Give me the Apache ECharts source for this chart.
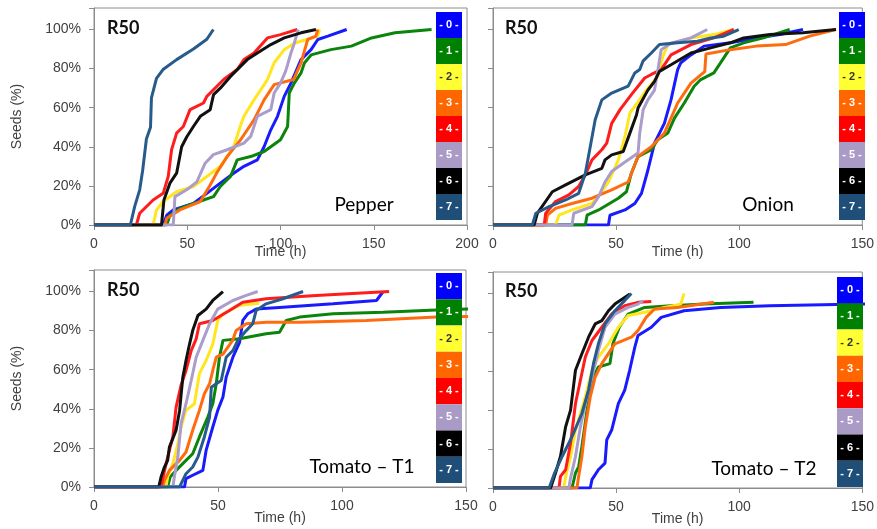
<!DOCTYPE html>
<html><head><meta charset="utf-8">
<script src="https://cdn.jsdelivr.net/npm/echarts@6/dist/echarts.min.js"></script>
<style>html,body{margin:0;padding:0;background:#fff}#c{width:877px;height:529px}</style>
</head><body><div id="c"></div>
<script>
// ---- data ----
const legendLabels = ['0','1','2','3','4','5','6','7'];
const panelNames = ['Pepper','Onion','Tomato \u2013 T1','Tomato \u2013 T2'];
const panelTag = 'R50';
const xMaxes = [200,150,150,150];
const yTicks = [0,20,40,60,80,100];
const yAxisTitle = 'Seeds (%)';
const xAxisTitle = 'Time (h)';

// Pepper
const P0 = [[0,0],[37,0],[39,5],[42.5,7.7],[53.3,11],[60.5,16.2],[67.7,21.4],[74.9,26.5],[80.4,30],[87.6,33.3],[91.2,40],[94.8,48.7],[98.4,55.6],[102,65.8],[105.6,72.6],[111,84.6],[116.4,89.7],[120,94.9],[125.4,96.6],[135.5,100]];
const P1 = [[0,0],[39,0],[40.7,5],[46,8.5],[58.7,12.8],[64.1,14.5],[67.7,19.7],[73.2,24.8],[76.8,33.3],[84,35],[91.2,37.6],[94.8,40],[100,43.6],[103.8,50.4],[104.7,67.5],[107.4,72.6],[111,77.8],[112.8,82.9],[116.4,87],[127,89.7],[138,91.5],[148.8,95.7],[161.4,98.3],[181,100]];
const P2 = [[0,0],[31.7,0],[33.5,7.7],[37.1,12],[44.3,17],[53.3,19.7],[60.5,24.8],[67.7,30],[74.9,40],[78.6,51],[80.4,55.6],[85.8,64],[93,74.4],[96.6,83],[102,89.7],[107.4,93],[114.6,95],[120,96.6],[120.9,100]];
const P3 = [[0,0],[38,0],[39,3.4],[46,7.7],[57,12],[62.3,20.5],[66,27],[71.4,35],[78.6,43.6],[85.8,53.8],[91.2,64],[96.6,71.8],[107,74.4],[111,82.9],[114.6,94.9],[119,96.6],[120,100]];
const P4 = [[0,0],[22.7,0],[24.5,6],[31.7,12.8],[37.1,16.2],[39.8,24.8],[41.6,38.5],[44.3,47],[47.9,50.4],[51.5,59],[58.7,62.4],[60.5,65.8],[65.9,71],[69.5,74.4],[76.8,79.5],[80.4,84.6],[85.8,88],[93,95.7],[100,97.4],[109,100]];
const P5 = [[0,0],[42.5,0],[43.4,14.5],[49.7,18],[55.1,22],[59.6,31.6],[64,36],[71.4,38.5],[80.4,41.9],[84,45.3],[87.6,55.6],[94.8,59],[96.6,67.5],[100,72.6],[102.7,78.6],[103.8,82],[105.6,88],[107.4,93],[109.5,100]];
const P6 = [[0,0],[36.2,0],[37.5,12.8],[40.7,21.4],[44.3,26.5],[47,40],[49.7,45],[53.3,50.4],[57,55.6],[62.3,59],[64.1,66.7],[67.7,70],[73.2,76],[76.8,79.5],[82.2,84.6],[87.6,88],[94.8,92.3],[102,95.7],[111,98.3],[119,100]];
const P7 = [[0,0],[19.5,0],[21.8,9.4],[24.5,18],[26.1,28],[28.1,44],[30.3,50],[30.8,65],[33.5,75],[37,79.5],[44.3,84.6],[53.3,90],[60.5,95],[64,100]];

// Onion
const O0 = [[0,0],[46.9,0],[47.5,5],[53.6,7.7],[57.6,11],[60.3,16.2],[62.9,28],[65.6,41.9],[69.6,52],[72.3,64],[75,79.5],[76.3,83],[80.4,87],[85.7,91.5],[96.4,93.2],[107,95.7],[116.5,97.4],[125.9,100]];
const O1 = [[0,0],[37.5,0],[38.2,5],[42.9,7.7],[50.9,13.7],[54.2,17],[56.2,26.5],[58.9,35],[64.3,38.5],[66.9,43.6],[71,47],[73.7,54.7],[77.7,62.4],[81.7,71],[84.4,74.4],[89.7,77.8],[92.4,82.9],[96.4,90.6],[101.8,93.2],[109.8,95.7],[120.5,100]];
const O2 = [[0,0],[25.4,0],[26.8,5],[32.1,7.7],[40.2,11],[44.2,17],[46.9,22],[50.9,33.3],[53.6,45.3],[55.6,57.3],[58.9,63],[62.3,69],[66.9,76],[69,86.3],[71,92.3],[80.4,95.7],[89.7,97.4],[97.8,100]];
const O3 = [[0,0],[21.4,0],[22.1,5],[25.4,8.5],[32.1,11],[40.2,13.7],[48.2,18],[54.9,22],[58.9,35],[64.3,40],[69.6,47],[75,62.4],[80.4,72.6],[86,78.5],[86.5,87.5],[96.4,89.7],[107,91.5],[118.8,92.3],[128.6,96.6],[139.3,100]];
const O4 = [[0,0],[20.8,0],[21.4,6],[25.4,12],[30.8,15.4],[34.8,19.7],[37.5,25.6],[40.2,33.3],[44.2,38.5],[46.2,41.9],[48.2,52],[51.6,59],[56.2,66.7],[61.6,75.2],[64.3,77],[68.3,79.5],[72.3,87],[80.4,92.3],[89.7,95.7],[97.8,100]];
const O5 = [[0,0],[32.1,0],[32.8,6],[40.2,9.4],[42.9,14.5],[45.5,22],[48.2,27.4],[52.9,31.6],[58.9,36.8],[59.6,47],[61,59],[62.9,64],[65.6,69],[67,79.5],[68.3,89.7],[72.3,93],[80.4,95.7],[87,100]];
const O6 = [[0,0],[16.7,0],[18,6],[24.1,17],[29.5,20.5],[37.5,25.6],[44.2,29],[45.5,33.3],[48.2,35.9],[52.9,37.6],[55.6,47],[58.3,56.4],[58.9,59.8],[62.9,69],[65.6,73.5],[67.6,78.6],[72.3,82],[80.4,88],[88.4,90.6],[96.4,93.2],[101.8,95.7],[112.5,97.4],[125.9,98.3],[139.3,100]];
const O7 = [[0,0],[16,0],[17.4,6],[22.8,9.4],[29.5,12.8],[34.8,16.2],[37.5,26.5],[39.5,40],[41.5,53.8],[44.2,64],[48.2,67.5],[54.9,71],[57.6,77.8],[59.6,79.5],[60.9,83.8],[64.3,88],[67.6,92.3],[75,93.2],[83,94],[88.4,95.7],[93.7,96.6],[99.8,100]];

// Tomato T1
const A0 = [[0,0],[36.5,0],[37.1,4.3],[39.8,6],[43.9,8.5],[45.2,18.7],[47.9,30.7],[49.9,39.2],[52,46],[53.3,56.2],[56,66.4],[58.7,74],[60,85.2],[62,88.6],[65.4,91],[76.2,92],[96.4,93.7],[113.9,95.4],[116.6,100]];
const A1 = [[0,0],[29.7,0],[30.7,5.1],[33.1,8.5],[37.1,13.6],[39.8,17],[42.5,25.6],[45.9,35.8],[47.9,42.6],[49.3,52.8],[50.6,66.4],[52,75],[58.7,75.8],[69.4,78.4],[74.8,79.2],[77.5,85.2],[82.9,86.9],[96.4,88.6],[116.6,89.4],[138,90.6],[155,91.2]];
const A2 = [[0,0],[29,0],[29.7,5.1],[31.8,12],[33.8,22],[35.1,30.7],[37.1,39.2],[40.5,42.6],[42.5,58],[45.2,64.7],[47.9,73],[49.9,85.2],[52,88.5],[58.7,93],[66.6,94]];
const A3 = [[0,0],[27.7,0],[28.4,3.4],[30.4,8.5],[34.5,13.6],[37.1,17.9],[39.8,29],[42.5,39.2],[44.5,47.7],[46.6,52.8],[47.9,59.6],[49.3,66.4],[52,68],[55.9,75],[57.3,80],[61.4,83.5],[69.4,84.3],[82.9,84.3],[109.8,85.2],[138,86.9],[155,87.3]];
const A4 = [[0,0],[27,0],[27.7,4.3],[29.7,15.3],[31.8,25.6],[33.1,40.9],[35.1,52],[37.1,59.6],[39.2,69.8],[41.2,75.8],[42.5,83.5],[47.9,85.2],[54.6,90.3],[60,94.5],[69.4,96.3],[89.6,98],[119,100]];
const A5 = [[0,0],[31.8,0],[32.4,5.1],[33.8,15.3],[35.1,32.4],[37.1,42.6],[39.2,54.5],[41.2,66.4],[43.9,75],[46.6,83.5],[49.9,91],[56,95.4],[61.4,98],[66,100]];
const A6 = [[0,0],[26.1,0],[27,5],[28.4,10.2],[29.7,13.6],[30.4,20.4],[33.1,29],[34.5,39],[35.8,56],[37.1,64.7],[38.5,73],[39.8,80],[41.9,87.7],[45.2,91],[47.9,95.4],[52,100]];
const A7 = [[0,0],[34.5,0],[37.1,6.8],[39.8,10.2],[41.9,15.3],[44.5,25.6],[46.6,35.8],[47.3,51],[49.3,52.8],[51.3,54.5],[53.3,66.4],[56,69.8],[58,75],[61.4,80],[64,83.5],[65.4,90.3],[69.4,93.7],[76.2,96.3],[84.3,100]];

// Tomato T2
const B0 = [[0,0],[39.5,0],[40.2,4.3],[42.8,9.4],[45.5,12.8],[46.2,24.7],[48.2,29.8],[50.9,43.4],[53.5,50.3],[55.5,60.5],[57.6,72.4],[58.9,78.4],[64.3,82.6],[68.3,87.7],[77.6,91.1],[92.4,92.8],[112.4,93.7],[150,94.5],[160,94.7]];
const B1 = [[0,0],[32.1,0],[33.5,7.7],[34.8,11],[36.1,21.3],[38.2,40],[40.2,55.4],[42.8,62.2],[47.5,63.9],[48.7,74.1],[51.3,82.6],[54.9,89.4],[61.6,92.8],[72.3,93.7],[85.7,94.5],[105.8,95.4]];
const B2 = [[0,0],[28.8,0],[29.5,6],[31.5,16.2],[33.5,29.8],[35.5,38.3],[37.5,46.8],[40.2,60.5],[42.8,67.3],[46.9,74.1],[50.9,82.6],[54.9,88.6],[61.6,90.3],[69.6,92.8],[76.3,94.5],[77.6,100]];
const B3 = [[0,0],[34.1,0],[34.8,6],[36.1,16.2],[37.5,31.5],[39.5,46.8],[41.5,57],[44.2,63.9],[49.5,74.1],[56.2,77.5],[58.9,80.9],[62.2,87.7],[65.6,92],[75,92.8],[89.7,95.4]];
const B4 = [[0,0],[26.8,0],[27.4,6],[29.5,9.4],[31.5,23],[33.5,43.4],[35.5,55.4],[37.5,67.3],[40.2,75.8],[44.2,82.6],[48.2,89.4],[53.5,93.7],[58.9,95.4],[64.3,95.9]];
const B5 = [[0,0],[30.8,0],[31.5,5.1],[33.5,16.2],[35.5,31.5],[37.5,43.4],[40.2,57],[42.8,70.7],[45.5,82.6],[49.5,89.4],[54.9,92.8],[58.9,94.5],[60.9,96.3]];
const B6 = [[0,0],[23.4,0],[25.4,7.7],[27.4,16.2],[29.5,31.5],[31.5,40],[33.5,60.5],[36.1,69],[38.8,77.5],[41.5,84.3],[44.2,86],[46.9,91.1],[49.5,94.5],[55.6,99.7]];
const B7 = [[0,0],[22.8,0],[25,7.7],[28.1,16.2],[32.1,26.4],[36.1,38.3],[38.8,50.3],[40.8,63.9],[42.8,74.1],[45.5,84.3],[49.5,91.1],[53.5,96.3],[56.2,100]];

const panelSeries = [[P0,P1,P2,P3,P4,P5,P6,P7],[O0,O1,O2,O3,O4,O5,O6,O7],[A0,A1,A2,A3,A4,A5,A6,A7],[B0,B1,B2,B3,B4,B5,B6,B7]];

// ---- styles / layout ----
const lineColors = ['#1a1aff','#0b840b','#ffe61f','#ff6b0f','#ff1c1c','#ab9dcb','#111111','#275b8c'];
const boxColors = ['#0000ff','#008000','#ffff33','#ff6600','#ff0000','#a99bc6','#000000','#1f4e79'];
const boxText = ['#ffffff','#ffffff','#333333','#ffffff','#ffffff','#ffffff','#ffffff','#ffffff'];
const grids = [
  {left:94, top:8, width:373, height:217},
  {left:493, top:8, width:374, height:217},
  {left:94, top:270, width:372, height:217},
  {left:493, top:272, width:374, height:216}
];
const legendPos = [{x:436,y:12,h:26},{x:839,y:12,h:26},{x:436,y:273,h:26.25},{x:837,y:277,h:26.25}];
const namePos = [{x:364,y:205},{x:768,y:205},{x:362,y:467},{x:764,y:469}];
const tagPos = [{x:107,y:28},{x:505,y:28},{x:107,y:290},{x:505,y:291}];
const FONT = '"Liberation Sans", Arial, sans-serif';

const chart = echarts.init(document.getElementById('c'), null, {renderer:'canvas'});
const xAxes = [], yAxes = [], series = [], graphic = [];
grids.forEach((g, i) => {
  const isLeft = (i % 2 === 0);
  xAxes.push({
    type:'value', gridIndex:i, min:0, max:xMaxes[i], interval:50,
    name:xAxisTitle, nameLocation:'middle', nameGap: i < 2 ? 20 : 24, nameMoveOverlap:false,
    nameTextStyle:{fontFamily:FONT, fontSize:14, color:'#404040'},
    axisLine:{show:true, lineStyle:{color:'#8c8c8c', width:1}},
    axisTick:{show:true, length:5, lineStyle:{color:'#8c8c8c'}},
    axisLabel:{fontFamily:FONT, fontSize:14, color:'#404040', margin:12},
    splitLine:{show:false}
  });
  yAxes.push({
    type:'value', gridIndex:i, min:0, max:111, interval:20,
    name: isLeft ? yAxisTitle : '', nameLocation:'middle', nameGap:70, nameRotate:90, nameMoveOverlap:false,
    nameTextStyle:{fontFamily:FONT, fontSize:14, color:'#404040'},
    axisLine:{show:true, lineStyle:{color:'#8c8c8c', width:1}},
    axisTick:{show:true, length:5, lineStyle:{color:'#8c8c8c'}},
    axisLabel:{show:isLeft, fontFamily:FONT, fontSize:14, color:'#404040', margin:13,
      formatter: v => (yTicks.indexOf(v) >= 0 ? v + '%' : '')},
    splitLine:{show:false}
  });
  panelSeries[i].forEach((d, k) => {
    series.push({
      type:'line', xAxisIndex:i, yAxisIndex:i, data:d, showSymbol:false, symbol:'none',
      lineStyle:{color:lineColors[k], width:3}, itemStyle:{color:lineColors[k]},
      z: 2, clip:true, silent:true
    });
  });
  // legend boxes
  const lp = legendPos[i];
  legendLabels.forEach((lab, k) => {
    graphic.push({type:'rect', shape:{x:lp.x, y:lp.y + k*lp.h, width:26, height:lp.h}, style:{fill:boxColors[k]}, z:100});
    graphic.push({type:'text', x:lp.x+13, y:lp.y + k*lp.h + lp.h/2, z:101,
      style:{text:'- ' + lab + ' -', fill:boxText[k], font:'bold 11px ' + FONT, align:'center', verticalAlign:'middle'}});
  });
  graphic.push({type:'text', x:namePos[i].x, y:namePos[i].y, z:101,
    style:{text:panelNames[i], fill:'#000', font:'19px Lato, "Open Sans", sans-serif', align:'center', verticalAlign:'middle'}});
  graphic.push({type:'text', x:tagPos[i].x, y:tagPos[i].y, z:101,
    style:{text:panelTag, fill:'#111', font:'bold 18px Lato, "Open Sans", sans-serif', align:'left', verticalAlign:'middle'}});
});

chart.setOption({
  animation:false,
  backgroundColor:'#ffffff',
  grid: grids.map(g => Object.assign({show:true, borderColor:'#8c8c8c', borderWidth:1, backgroundColor:'transparent', containLabel:false}, g)),
  xAxis:xAxes, yAxis:yAxes, series:series, graphic:graphic
});
</script></body></html>
